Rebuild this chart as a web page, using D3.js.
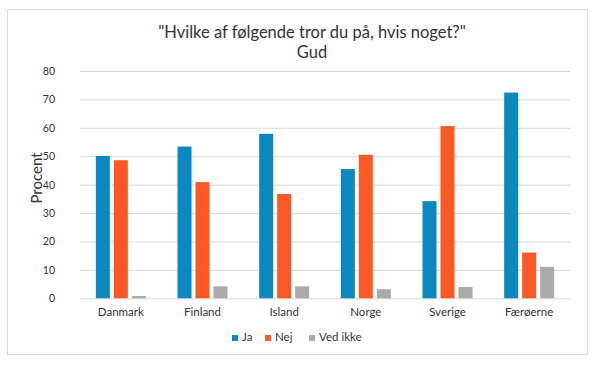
<!DOCTYPE html>
<html><head><meta charset="utf-8">
<script src="https://cdn.jsdelivr.net/npm/d3@7"></script>
<style>body{margin:0;background:#fff;} svg{display:block;font-family:Lato, "Open Sans", sans-serif;}</style>
</head><body>
<svg id="c" width="599" height="369"></svg>
<script>
const categories = ["Danmark","Finland","Island","Norge","Sverige","Færøerne"];
const seriesNames = ["Ja","Nej","Ved ikke"];
const ja = [50.1, 53.4, 57.9, 45.5, 34.2, 72.4];
const nej = [48.6, 40.9, 36.7, 50.5, 60.6, 16.1];
const vedIkke = [0.8, 4.2, 4.2, 3.2, 4.0, 11.1];
const yTicks = [0,10,20,30,40,50,60,70,80];
const colors = ["#0a88c0","#fd5723","#aaaaaa"];
const titleLines = ["\"Hvilke af følgende tror du på, hvis noget?\"","Gud"];

(function(){
const svg = d3.select("#c");
svg.append("rect").attr("x",7.5).attr("y",9.5).attr("width",580).attr("height",345)
  .attr("fill","#fff").attr("stroke","#d9d9d9");

const pl=80, pr=570, pt=71, pb=298.3;
const y = d3.scaleLinear().domain([0,80]).range([pb,pt]);
const x0 = d3.scaleBand().domain(categories).range([pl,pr]).paddingInner(0.388).paddingOuter(0.194);
const x1 = d3.scaleBand().domain(seriesNames).range([0,x0.bandwidth()]).paddingInner(0.222).paddingOuter(0);

const yAxis = d3.axisLeft(y).tickValues(yTicks).tickSize(-(pr-pl)).tickPadding(25);
const gy = svg.append("g").attr("transform",`translate(${pl},0)`).call(yAxis);
gy.select(".domain").remove();
gy.selectAll(".tick line").attr("stroke","#d9d9d9").attr("stroke-width",1);
gy.selectAll(".tick text").attr("fill","#333").attr("font-size",10.5).attr("font-family","Lato, sans-serif");

const data = categories.map((c,i)=>({cat:c, vals:[ja[i],nej[i],vedIkke[i]]}));
const groups = svg.append("g").selectAll("g").data(data).join("g")
  .attr("transform",d=>`translate(${x0(d.cat)},0)`);
groups.selectAll("rect").data(d=>d.vals.map((v,j)=>({s:seriesNames[j],v,j})))
  .join("rect")
  .attr("x",d=>x1(d.s)).attr("width",x1.bandwidth())
  .attr("y",d=>y(d.v)).attr("height",d=>y(0)-y(d.v))
  .attr("fill",d=>colors[d.j]);

const xAxis = d3.axisBottom(x0).tickSize(0).tickPadding(10);
const gx = svg.append("g").attr("transform",`translate(0,${pb})`).call(xAxis);
gx.select(".domain").remove();
gx.selectAll(".tick text").attr("fill","#333").attr("font-size",11.5).attr("font-family","Lato, sans-serif");

svg.append("text").attr("transform","translate(42,178) rotate(-90)")
  .attr("text-anchor","middle").attr("font-size",15).attr("fill","#333").text("Procent");

svg.append("text").attr("text-anchor","middle").attr("font-size",16.5).attr("fill","#333")
  .attr("x",312).attr("y",37.5).text(titleLines[0]);
svg.append("text").attr("text-anchor","middle").attr("font-size",16.5).attr("fill","#333")
  .attr("x",312).attr("y",57.5).text(titleLines[1]);

const legendX = [232, 265, 309];
const lg = svg.append("g").selectAll("g").data(seriesNames).join("g")
  .attr("transform",(d,i)=>`translate(${legendX[i]},335)`);
lg.append("rect").attr("width",6).attr("height",6).attr("y",0).attr("fill",(d,i)=>colors[i]);
lg.append("text").attr("x",10).attr("y",6).attr("font-size",11.5).attr("fill","#333").text(d=>d);
})();
</script>
</body></html>
